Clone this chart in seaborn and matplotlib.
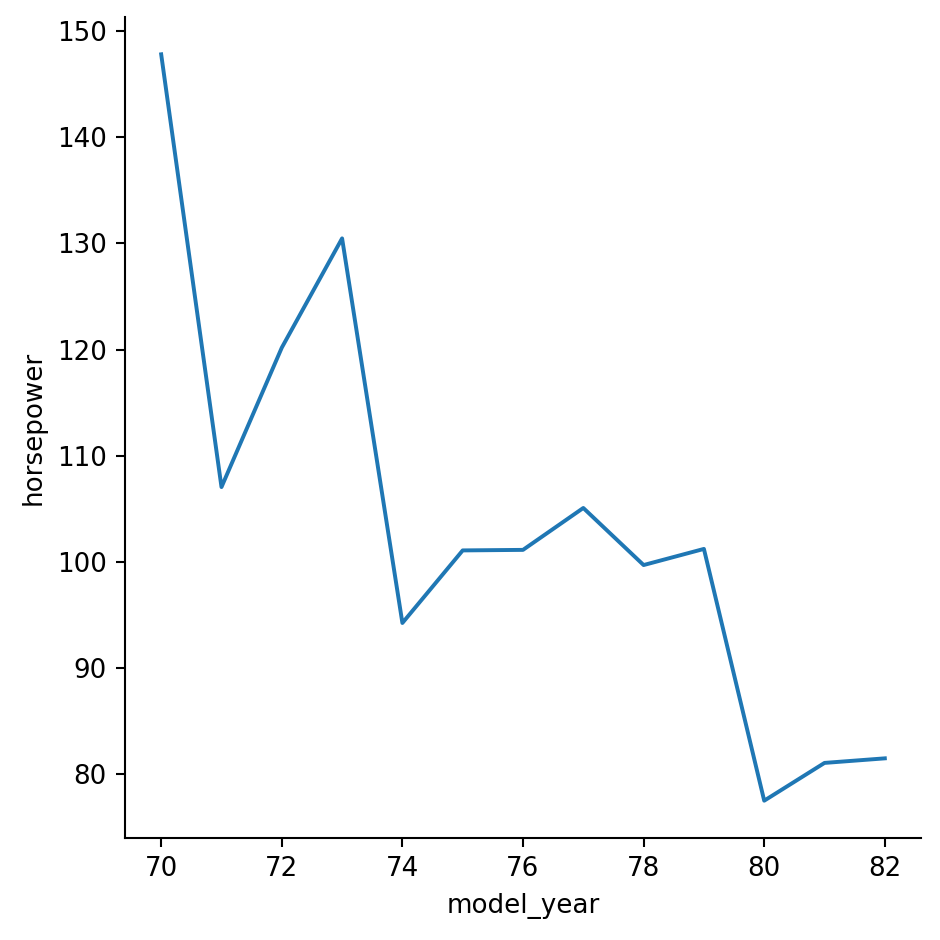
import matplotlib
matplotlib.use("Agg")
import matplotlib.pyplot as plt
import seaborn as sns
import pandas as pd

model_year = [70, 71, 72, 73, 74, 75, 76, 77, 78, 79, 80, 81, 82]
horsepower = [147.83, 107.04, 120.18, 130.48, 94.23, 101.07, 101.12,
              105.07, 99.69, 101.21, 77.48, 81.04, 81.47]

df = pd.DataFrame({"model_year": model_year, "horsepower": horsepower})

g = sns.relplot(data=df, x="model_year", y="horsepower", kind="line",
                height=5, aspect=1)
g.figure.subplots_adjust(left=125/940, right=921/940, top=1-17/940, bottom=1-838/940)
g.figure.savefig("out.png", dpi=188)
